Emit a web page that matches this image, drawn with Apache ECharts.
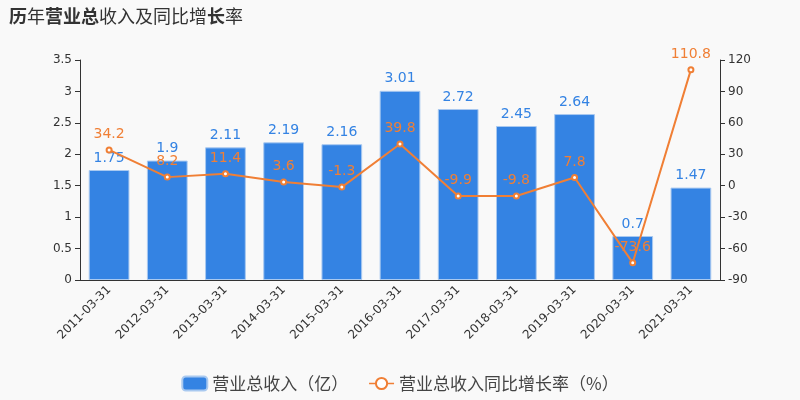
<!DOCTYPE html>
<html><head><meta charset="utf-8">
<script src="https://cdn.jsdelivr.net/npm/echarts@6/dist/echarts.min.js"></script>
<style>html,body{margin:0;padding:0;background:#f9f9f9}#c{width:800px;height:400px}</style>
</head><body><div id="c"></div>
<script>
var categories = ['2011-03-31','2012-03-31','2013-03-31','2014-03-31','2015-03-31','2016-03-31','2017-03-31','2018-03-31','2019-03-31','2020-03-31','2021-03-31'];
var revenue = [1.75,1.9,2.11,2.19,2.16,3.01,2.72,2.45,2.64,0.7,1.47];
var growth = [34.2,8.2,11.4,3.6,-1.3,39.8,-9.9,-9.8,7.8,-73.6,110.8];
var chart = echarts.init(document.getElementById('c'));
var font = '"Noto Sans CJK SC", "Noto Sans", sans-serif';
chart.setOption({
  backgroundColor: '#f9f9f9',
  title: {
    text: '{b|历}{n|年}{b|营业总}{n|收入及同比增}{b|长}{n|率}',
    left: 4, top: 2,
    textStyle: {
      rich: {
        b: {fontSize: 18, fontWeight: 'bold', color: '#333', fontFamily: font},
        n: {fontSize: 18, fontWeight: 'normal', color: '#333', fontFamily: font}
      }
    }
  },
  legend: {
    bottom: 3, left: 'center', itemGap: 20,
    textStyle: {fontSize: 17, color: '#444', fontFamily: font},
    data: [
      {name: '营业总收入（亿）', icon: 'roundRect'},
      {name: '营业总收入同比增长率（%）', itemStyle: {borderWidth: 1}, lineStyle: {width: 1.5}}
    ],
    itemWidth: 25, itemHeight: 14
  },
  grid: {left: 80, right: 80, top: 60, bottom: 120},
  xAxis: {
    type: 'category', data: categories,
    axisLine: {lineStyle: {color: '#333'}},
    axisTick: {lineStyle: {color: '#333'}},
    axisLabel: {rotate: 45, color: '#333', fontSize: 12, interval: 0, fontFamily: 'DejaVu Sans'}
  },
  yAxis: [
    {type: 'value', min: 0, max: 3.5, interval: 0.5, splitLine: {show: false},
     axisLine: {show: true, lineStyle: {color: '#333'}}, axisTick: {show: true},
     axisLabel: {color: '#333', fontSize: 12, fontFamily: 'DejaVu Sans'}},
    {type: 'value', min: -90, max: 120, interval: 30, splitLine: {show: false},
     axisLine: {show: true, lineStyle: {color: '#333'}}, axisTick: {show: true},
     axisLabel: {color: '#333', fontSize: 12, fontFamily: 'DejaVu Sans'}}
  ],
  series: [
    {name: '营业总收入（亿）', type: 'bar', data: revenue, barWidth: '70%',
     itemStyle: {color: '#3483e3', borderColor: '#a9c9f0', borderWidth: 1},
     label: {show: true, position: 'top', color: '#3483e3', fontSize: 14, fontFamily: 'DejaVu Sans'}},
    {name: '营业总收入同比增长率（%）', type: 'line', yAxisIndex: 1, data: growth,
     symbol: 'emptyCircle', symbolSize: 5,
     lineStyle: {color: '#f07f35', width: 2},
     itemStyle: {color: '#f07f35'},
     label: {show: true, position: 'top', color: '#f07f35', fontSize: 14, fontFamily: 'DejaVu Sans'}}
  ]
});
</script></body></html>
